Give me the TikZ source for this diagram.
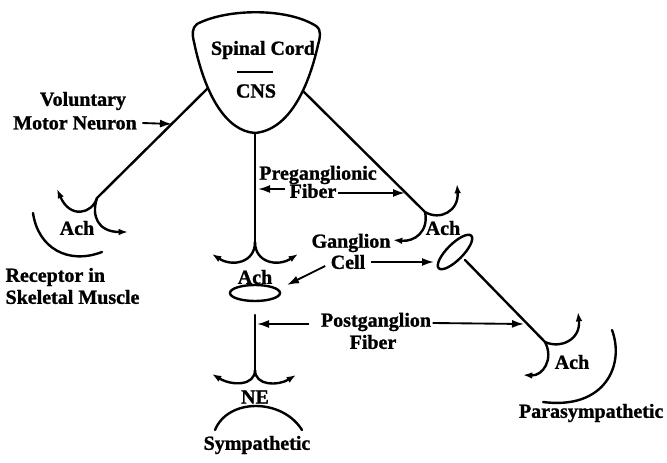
\documentclass[tikz,border=0pt]{standalone}
\usepackage{fontspec}
\setmainfont{Liberation Serif}[BoldFeatures={FakeBold=1.2}]
\usetikzlibrary{arrows.meta}

\tikzset{
  lab/.style={font=\fontsize{15}{16.5}\selectfont\bfseries, inner sep=1pt},
  nerve/.style={line width=1.8pt, line cap=round},
  arm/.style={line width=1.8pt, -{Latex[length=7pt,width=5pt]}},
  pointer/.style={line width=1.4pt, -{Latex[length=9pt,width=6pt]}}
}

\begin{document}
\begin{tikzpicture}[x=0.75pt,y=0.75pt,yscale=-1,xscale=1]
\useasboundingbox (0,0) rectangle (667,463);

% spinal cord
\draw [nerve] (197,24) .. controls (228,8) and (288,8) .. (316,26) .. controls (322,30) and (320,38) .. (318,45) .. controls (308,90) and (288,130) .. (255,133) .. controls (226,131) and (205,95) .. (194,42) .. controls (192,34) and (192,28) .. (197,24) -- cycle ;
\node [lab] (cord) at (263,50) {Spinal Cord};
\draw [line width=1.4pt] (237,72) -- (273,72) ;
\node [lab] (cns) at (256,91) {CNS};

% nerve fibers
\draw [nerve] (208,88) -- (97,198) ;
\draw [nerve] (303,91) -- (425,212) ;
\draw [nerve] (255,133) -- (255,242) ;
\draw [nerve] (465,260) -- (545,342) ;
\draw [nerve] (255,315) -- (255,370) ;

% endings
\draw [arm] (97,198) .. controls (92,214) and (70,219) .. (57,189) ;
\draw [arm] (97,198) .. controls (91,216) and (98,232) .. (128,232) ;

\draw [arm] (255,242) .. controls (255,263) and (232,267) .. (212,254) ;
\draw [arm] (255,242) .. controls (255,263) and (278,267) .. (298,254) ;

\draw [arm] (425,212) .. controls (440,221) and (459,211) .. (457,184) ;
\draw [arm] (425,212) .. controls (429,231) and (415,242) .. (393,240) ;

\draw [arm] (545,342) .. controls (560,349) and (581,340) .. (578,312) ;
\draw [arm] (545,342) .. controls (554,359) and (543,376) .. (523,375) ;

\draw [arm] (255,370) .. controls (255,386) and (232,386) .. (212,374) ;
\draw [arm] (255,370) .. controls (255,386) and (278,386) .. (296,375) ;

% ganglion cells
\draw [nerve] (255,293) ellipse [x radius=25, y radius=8] ;
\draw [nerve, rotate around={-45:(455,252)}] (455,252) ellipse [x radius=23, y radius=8] ;

% receptors
\draw [nerve] (33,213) .. controls (38,248) and (68,265) .. (102,252) ;
\draw [nerve] (612,330) .. controls (625,365) and (605,410) .. (543,402) ;
\draw [nerve] (215,430) .. controls (228,398) and (282,398) .. (302,430) ;

% transmitters
\node [lab] (ach1) at (77,228) {Ach};
\node [lab] (ach2) at (255,277) {Ach};
\node [lab] (ach3) at (443,228) {Ach};
\node [lab] (ach4) at (572,362) {Ach};
\node [lab] (ne) at (255,397) {NE};

% labels
\node [lab] (volun) at (83,101) {Voluntary};
\node [lab] (motor) at (75,123) {Motor Neuron};
\node [lab] (pregan) at (318,175) {Preganglionic};
\node [lab] (preganfib) at (313,191) {Fiber};
\node [lab] (gang) at (351,243) {Ganglion};
\node [lab] (cell) at (348,262) {Cell};
\node [lab] (postgan) at (376,322) {Postganglion};
\node [lab] (postganfib) at (373,342) {Fiber};
\node [lab, anchor=west, align=left] (skel) at (4,286) {Receptor in\\Skeletal Muscle};
\node [lab] (symp) at (257,445) {Sympathetic};
\node [lab, anchor=east] (parasymp) at (665,413) {Parasympathetic};

\coordinate (vmn) at (172,124);
\coordinate (preL) at (258,189);
\coordinate (preR) at (405,193);
\coordinate (cellL) at (287,285);
\coordinate (cellR) at (434,262);
\coordinate (postL) at (257,324);
\coordinate (postR) at (524,324);

\draw [pointer] (motor.east) ++(4,0) -- (vmn) ;
\draw [pointer] (preganfib.west) ++(-3,-2) -- (preL) ;
\draw [pointer] (preganfib.east) ++(0,2) -- (preR) ;
\draw [pointer] (cell.west) ++(-4,4) -- (cellL) ;
\draw [pointer] (cell.east) ++(4,0) -- (cellR) ;
\draw [pointer] (postgan.west) ++(-10,2) -- (postL) ;
\draw [pointer] (postgan.east) ++(0,1) -- (postR) ;
\end{tikzpicture}
\end{document}
